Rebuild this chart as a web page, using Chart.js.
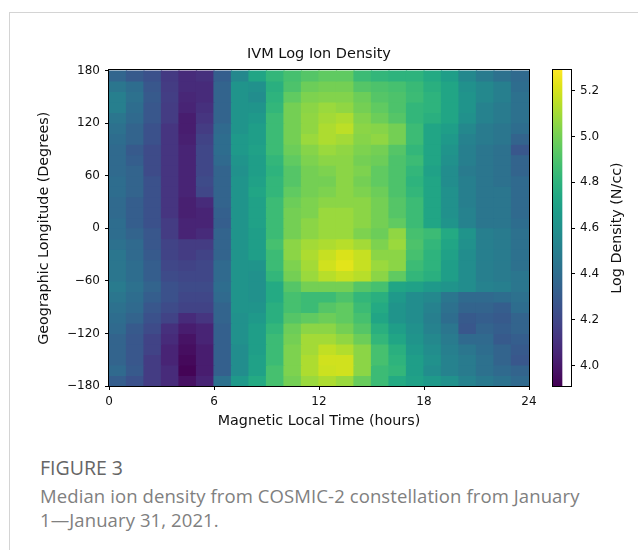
<!DOCTYPE html>
<html>
<head>
<meta charset="utf-8">
<script src="https://cdn.jsdelivr.net/npm/chart.js@4.4.0/dist/chart.umd.min.js"></script>
<style>
  html, body { margin: 0; padding: 0; background: #fff; }
  body { width: 638px; height: 550px; position: relative; overflow: hidden; font-family: "Open Sans", sans-serif; }
  #frame { position: absolute; left: 9px; top: 12px; right: -2px; bottom: -2px; border-left: 1px solid #d4d4d4; border-top: 1px solid #d4d4d4; }
  #heatCanvas { position: absolute; left: 0; top: 30px; }
  #cbarCanvas { position: absolute; left: 540px; top: 30px; }
  #figLabel { position: absolute; left: 40px; top: 455px; font-size: 19.5px; line-height: 26px; color: #666; }
  #figCaption { position: absolute; left: 40px; top: 484px; font-size: 18.5px; line-height: 24px; letter-spacing: 0.1px; color: #808080; white-space: nowrap; }
</style>
</head>
<body>
<div id="frame"></div>
<canvas id="heatCanvas" width="545" height="410"></canvas>
<canvas id="cbarCanvas" width="98" height="410"></canvas>
<div id="figLabel">FIGURE 3</div>
<div id="figCaption">Median ion density from COSMIC-2 constellation from January<br>1—January 31, 2021.</div>
<script>
// magnetic local time bin centres (hours)
const mltCenters = [0.5, 1.5, 2.5, 3.5, 4.5, 5.5, 6.5, 7.5, 8.5, 9.5, 10.5, 11.5,
                    12.5, 13.5, 14.5, 15.5, 16.5, 17.5, 18.5, 19.5, 20.5, 21.5, 22.5, 23.5];
// longitude bin edges, top to bottom (degrees)
const lonEdges = [180, 168, 156, 144, 132, 120, 108, 96, 84, 72, 60, 48, 36, 24, 12, 0,
                  -12, -24, -36, -48, -60, -72, -84, -96, -108, -120, -132, -144, -156, -168, -180];
const mltTicks = [0, 6, 12, 18, 24];
const lonTicks = [-180, -120, -60, 0, 60, 120, 180];
const cbarTicks = [4.0, 4.2, 4.4, 4.6, 4.8, 5.0, 5.2];
const cbarMin = 3.91;
const cbarMax = 5.29;

// log ion density, one row per longitude bin (top row = 168..180)
const logDensity = [
  [4.36,4.30,4.25,4.14,4.08,4.10,4.32,4.55,4.72,4.82,4.88,4.92,4.95,4.95,4.85,4.82,4.80,4.80,4.75,4.68,4.55,4.48,4.42,4.38],
  [4.45,4.40,4.28,4.15,4.08,4.08,4.35,4.62,4.60,4.78,4.90,4.98,5.00,5.00,4.92,4.90,4.88,4.84,4.78,4.72,4.60,4.55,4.50,4.40],
  [4.50,4.42,4.30,4.16,4.06,4.08,4.35,4.62,4.58,4.80,4.95,5.02,5.03,5.03,4.98,4.92,4.90,4.85,4.80,4.72,4.62,4.55,4.50,4.42],
  [4.50,4.40,4.28,4.15,4.05,4.10,4.35,4.62,4.62,4.82,5.00,5.05,5.08,5.06,5.00,4.95,4.90,4.82,4.80,4.72,4.62,4.52,4.48,4.42],
  [4.45,4.38,4.28,4.15,4.02,4.12,4.35,4.62,4.65,4.85,5.00,5.06,5.10,5.12,5.03,4.98,4.92,4.82,4.78,4.72,4.60,4.52,4.48,4.42],
  [4.42,4.35,4.25,4.12,4.02,4.15,4.38,4.62,4.68,4.85,5.00,5.06,5.12,5.15,5.05,5.04,5.00,4.85,4.72,4.68,4.55,4.48,4.45,4.40],
  [4.40,4.35,4.25,4.12,4.03,4.18,4.40,4.65,4.68,4.85,5.00,5.08,5.12,5.10,5.04,5.06,5.00,4.85,4.72,4.65,4.52,4.48,4.45,4.35],
  [4.38,4.30,4.22,4.12,4.05,4.20,4.40,4.65,4.70,4.85,4.98,5.04,5.08,5.06,5.02,5.00,4.92,4.82,4.72,4.62,4.50,4.45,4.42,4.28],
  [4.38,4.32,4.22,4.12,4.05,4.20,4.38,4.62,4.68,4.82,4.95,5.02,5.05,5.05,5.00,4.98,4.90,4.85,4.72,4.60,4.50,4.45,4.42,4.35],
  [4.38,4.35,4.22,4.12,4.05,4.20,4.35,4.60,4.68,4.80,4.92,5.00,5.02,5.05,5.02,4.95,4.90,4.82,4.70,4.58,4.48,4.45,4.42,4.35],
  [4.40,4.35,4.25,4.12,4.05,4.22,4.35,4.62,4.70,4.82,4.92,5.00,5.00,5.05,5.00,4.95,4.90,4.80,4.72,4.58,4.50,4.45,4.42,4.38],
  [4.40,4.35,4.25,4.12,4.05,4.20,4.35,4.62,4.72,4.82,4.95,5.00,5.02,5.05,5.02,4.98,4.90,4.82,4.72,4.60,4.50,4.45,4.45,4.38],
  [4.38,4.32,4.25,4.12,4.03,4.08,4.35,4.62,4.70,4.85,4.98,5.02,5.05,5.05,5.05,5.00,4.92,4.85,4.72,4.60,4.50,4.45,4.45,4.38],
  [4.38,4.32,4.25,4.12,4.03,4.05,4.33,4.62,4.70,4.85,5.00,5.02,5.08,5.08,5.05,5.00,4.92,4.85,4.72,4.60,4.52,4.45,4.45,4.38],
  [4.40,4.32,4.25,4.15,4.05,4.05,4.32,4.62,4.70,4.85,5.00,5.05,5.08,5.08,5.05,5.00,4.95,4.85,4.72,4.62,4.52,4.45,4.45,4.40],
  [4.40,4.35,4.28,4.15,4.05,4.08,4.35,4.62,4.68,4.85,5.00,5.05,5.08,5.08,5.02,4.98,5.06,4.88,4.85,4.75,4.62,4.50,4.48,4.42],
  [4.42,4.38,4.28,4.18,4.15,4.15,4.35,4.62,4.68,4.88,5.05,5.10,5.12,5.14,5.10,5.02,5.08,4.90,4.82,4.72,4.60,4.50,4.48,4.42],
  [4.45,4.38,4.30,4.18,4.15,4.18,4.35,4.62,4.68,4.85,5.05,5.12,5.17,5.21,5.17,5.05,5.05,4.88,4.80,4.70,4.58,4.50,4.48,4.42],
  [4.45,4.40,4.32,4.20,4.18,4.20,4.38,4.62,4.62,4.85,5.02,5.10,5.19,5.23,5.17,5.08,5.05,4.85,4.80,4.68,4.58,4.50,4.48,4.42],
  [4.45,4.40,4.32,4.22,4.20,4.20,4.38,4.62,4.60,4.82,5.00,5.08,5.14,5.17,5.14,5.05,4.95,4.82,4.78,4.68,4.58,4.50,4.48,4.45],
  [4.48,4.42,4.35,4.25,4.22,4.22,4.40,4.62,4.60,4.75,4.92,5.00,5.00,5.00,4.92,4.88,4.72,4.70,4.65,4.62,4.58,4.52,4.50,4.45],
  [4.45,4.40,4.32,4.25,4.20,4.20,4.38,4.62,4.60,4.75,4.88,4.85,4.85,4.90,4.82,4.78,4.65,4.58,4.55,4.45,4.38,4.38,4.40,4.42],
  [4.42,4.38,4.28,4.22,4.18,4.18,4.35,4.62,4.62,4.78,4.88,4.85,4.92,4.95,4.85,4.75,4.62,4.58,4.52,4.42,4.35,4.35,4.32,4.40],
  [4.40,4.35,4.25,4.18,4.08,4.12,4.35,4.60,4.65,4.78,4.92,4.95,4.98,4.95,4.88,4.72,4.62,4.58,4.50,4.40,4.30,4.32,4.30,4.35],
  [4.38,4.30,4.22,4.10,4.02,4.05,4.33,4.60,4.68,4.82,4.98,5.05,5.05,5.00,4.92,4.78,4.68,4.60,4.52,4.45,4.28,4.35,4.32,4.35],
  [4.35,4.28,4.18,4.08,3.98,4.05,4.33,4.60,4.68,4.85,5.00,5.10,5.10,5.06,4.98,4.82,4.72,4.62,4.55,4.48,4.38,4.38,4.30,4.32],
  [4.35,4.28,4.18,4.05,3.96,4.02,4.33,4.58,4.68,4.85,5.02,5.10,5.16,5.13,5.05,4.88,4.78,4.65,4.58,4.50,4.45,4.40,4.35,4.30],
  [4.35,4.28,4.15,4.05,3.94,4.02,4.33,4.58,4.70,4.85,5.02,5.12,5.19,5.19,5.05,4.88,4.80,4.68,4.60,4.52,4.48,4.42,4.35,4.28],
  [4.38,4.30,4.15,4.08,3.92,4.02,4.33,4.58,4.70,4.88,5.02,5.12,5.18,5.19,5.05,4.85,4.82,4.68,4.58,4.52,4.48,4.42,4.38,4.35],
  [4.32,4.25,4.15,4.08,3.97,4.05,4.42,4.65,4.75,4.88,5.00,5.08,5.12,5.08,4.97,4.85,4.75,4.70,4.65,4.60,4.52,4.47,4.43,4.38]
];

// viridis colormap stops, every 0.05
const viridisStops = ['#440154','#471365','#482475','#463480','#414487','#3b528b','#355f8d',
  '#2f6c8e','#2a788e','#25848e','#21918c','#1e9c89','#22a884','#2fb47c','#44bf70','#5ec962',
  '#7ad151','#9bd93c','#bddf26','#dfe318','#fde725'];

function hexToRgb(h) {
  return [parseInt(h.substr(1, 2), 16), parseInt(h.substr(3, 2), 16), parseInt(h.substr(5, 2), 16)];
}

function viridisColor(v) {
  let t = (v - cbarMin) / (cbarMax - cbarMin);
  t = Math.max(0, Math.min(1, t));
  const pos = t * (viridisStops.length - 1);
  const i = Math.min(Math.floor(pos), viridisStops.length - 2);
  const f = pos - i;
  const a = hexToRgb(viridisStops[i]), b = hexToRgb(viridisStops[i + 1]);
  const rgb = a.map(function(c, k) { return Math.round(c + (b[k] - c) * f); });
  return 'rgb(' + rgb.join(',') + ')';
}

function minusSign(v) {
  return v < 0 ? '\u2212' + Math.abs(v) : String(v);
}

// black box round the plot area
const frameBox = {
  id: 'frameBox',
  afterDraw: function(chart) {
    const a = chart.chartArea, c = chart.ctx;
    c.save();
    c.strokeStyle = '#000';
    c.lineWidth = 1;
    c.strokeRect(Math.round(a.left) - 0.5, Math.round(a.top) - 0.5,
                 Math.round(a.right) - Math.round(a.left) + 1, Math.round(a.bottom) - Math.round(a.top) + 1);
    c.restore();
  }
};

const tickFont = { family: 'DejaVu Sans', size: 12 };
const labelFont = { family: 'DejaVu Sans', size: 14.3 };
Chart.defaults.color = '#111';
Chart.defaults.font.family = 'DejaVu Sans';

// --- Heatmap ---
const heatDatasets = logDensity.map(function(row, r) {
  return {
    label: lonEdges[r + 1] + ' to ' + lonEdges[r],
    data: row.map(function(v, c) {
      return { x: mltCenters[c], y: [lonEdges[r + 1], lonEdges[r]] };
    }),
    backgroundColor: row.map(viridisColor),
    borderWidth: 0,
    inflateAmount: 0.6,
    barPercentage: 1,
    categoryPercentage: 1,
    grouped: false
  };
});

new Chart(document.getElementById('heatCanvas').getContext('2d'), {
  type: 'bar',
  data: { datasets: heatDatasets },
  plugins: [frameBox],
  options: {
    responsive: false,
    animation: false,
    events: [],
    layout: { padding: { left: 32, right: 16, top: 0, bottom: 8 } },
    plugins: {
      legend: { display: false },
      tooltip: { enabled: false },
      title: {
        display: true,
        fullSize: false,
        text: 'IVM Log Ion Density',
        color: '#111',
        font: { family: 'DejaVu Sans', size: 14.5, weight: 'normal' },
        padding: { top: 16, bottom: 7 }
      }
    },
    scales: {
      x: {
        type: 'linear',
        min: 0,
        max: 24,
        offset: false,
        afterBuildTicks: function(scale) { scale.ticks = mltTicks.map(function(v) { return { value: v }; }); },
        afterFit: function(scale) { scale.height = 46; },
        grid: { offset: false, drawOnChartArea: false, drawTicks: true, tickLength: 4, color: '#000' },
        border: { display: false },
        ticks: { font: tickFont, color: '#111', padding: 5, maxRotation: 0 },
        title: { display: true, text: 'Magnetic Local Time (hours)', font: labelFont, color: '#111', padding: { top: 2, bottom: 2 } }
      },
      y: {
        type: 'linear',
        min: -180,
        max: 180,
        afterBuildTicks: function(scale) { scale.ticks = lonTicks.map(function(v) { return { value: v }; }); },
        afterFit: function(scale) { scale.width = 77; },
        grid: { drawOnChartArea: false, drawTicks: true, tickLength: 4, color: '#000' },
        border: { display: false },
        ticks: { font: tickFont, color: '#111', padding: 5, callback: minusSign },
        title: { display: true, text: 'Geographic Longitude (Degrees)', font: labelFont, color: '#111', padding: { top: 4, bottom: 4 } }
      }
    }
  }
});

// --- Colour bar ---
const cbarLabel = {
  id: 'cbarLabel',
  afterDraw: function(chart) {
    const a = chart.chartArea, c = chart.ctx;
    c.save();
    c.translate(a.right + 46, (a.top + a.bottom) / 2);
    c.rotate(-Math.PI / 2);
    c.font = '14.3px "DejaVu Sans"';
    c.fillStyle = '#111';
    c.textAlign = 'center';
    c.textBaseline = 'middle';
    c.fillText('Log Density (N/cc)', 0, 0);
    c.restore();
  }
};

new Chart(document.getElementById('cbarCanvas').getContext('2d'), {
  type: 'bar',
  data: {
    labels: [''],
    datasets: [{
      data: [[cbarMin, cbarMax]],
      backgroundColor: function(ctx) {
        const area = ctx.chart.chartArea;
        if (!area) return viridisStops[10];
        const g = ctx.chart.ctx.createLinearGradient(0, area.bottom, 0, area.top);
        viridisStops.forEach(function(col, i) { g.addColorStop(i / (viridisStops.length - 1), col); });
        return g;
      },
      borderWidth: 0,
      barPercentage: 1,
      categoryPercentage: 1
    }]
  },
  plugins: [frameBox, cbarLabel],
  options: {
    responsive: false,
    animation: false,
    events: [],
    layout: { padding: { left: 13, right: 0, top: 40, bottom: 54 } },
    plugins: { legend: { display: false }, tooltip: { enabled: false } },
    scales: {
      x: { display: false, offset: false },
      y: {
        position: 'right',
        min: cbarMin,
        max: cbarMax,
        afterBuildTicks: function(scale) { scale.ticks = cbarTicks.map(function(v) { return { value: v }; }); },
        afterFit: function(scale) { scale.width = 67; },
        grid: { drawOnChartArea: false, drawTicks: true, tickLength: 4, color: '#000' },
        border: { display: false },
        ticks: { font: tickFont, color: '#111', padding: 5, callback: function(v) { return Number(v).toFixed(1); } }
      }
    }
  }
});
</script>
</body>
</html>
